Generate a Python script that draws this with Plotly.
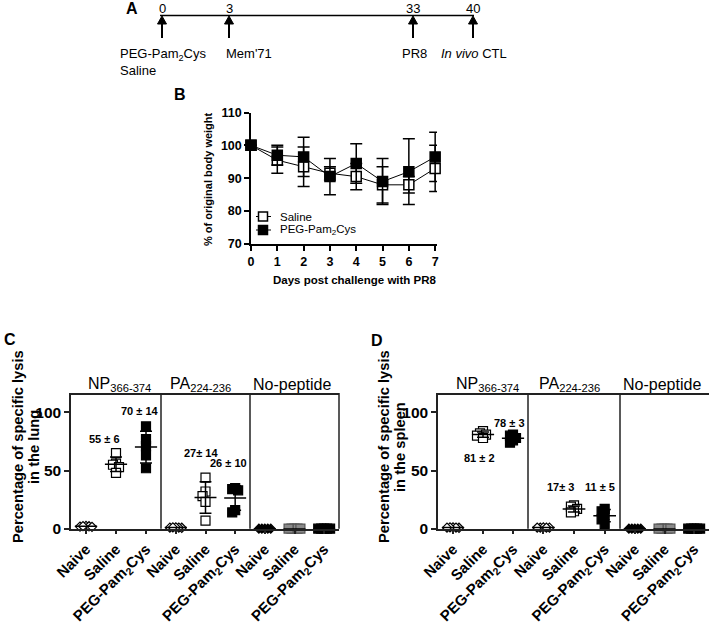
import numpy as np
import plotly.graph_objects as go

W, H = 709, 629
FONT = "Liberation Sans, Arial, Helvetica, sans-serif"

# ---------------- data ----------------
# Panel A: schedule (days) and events
timeline_days = [0, 3, 33, 40]
timeline_events = ["PEG-Pam<sub>2</sub>Cys<br>Saline", "Mem'71", "PR8", "<i>In vivo</i> CTL"]

# Panel B: body weight after PR8 challenge
days = [0, 1, 2, 3, 4, 5, 6, 7]
saline_weight = [100, 95.5, 93.5, 91.5, 90.5, 88, 88, 93]
saline_weight_sd = [0, 4, 6, 2, 4, 5.5, 2.5, 7]
peg_weight = [100, 97, 96.5, 90.5, 94.5, 89, 92, 96.5]
peg_weight_sd = [0, 3, 6, 5.5, 6, 7, 10, 7.5]
series_names = ["Saline", "PEG-Pam<sub>2</sub>Cys"]

# Panels C/D: groups and peptides
groups = ["Naive", "Saline", "PEG-Pam<sub>2</sub>Cys"]
peptides = ["NP<sub>366-374</sub>", "PA<sub>224-236</sub>", "No-peptide"]

lung_np_naive = [2.4, 1.8, 2.1, 1.6, 2.2]
lung_np_saline = [65, 56, 55, 53, 48]
lung_np_peg = [88, 77, 71, 63, 52]
lung_pa_naive = [0.8, 1.0, 1.2, 0.9, 1.1]
lung_pa_saline = [44, 32, 28, 23, 7]
lung_pa_peg = [35, 34, 33, 16, 14]
lung_nopep_naive = [0, 0, 0, 0, 0]
lung_nopep_saline = [0, 0, 0, 0, 0]
lung_nopep_peg = [0, 0, 0, 0, 0]
lung_labels_np = ["", "55 ± 6", "70 ± 14"]
lung_labels_pa = ["", "27± 14", "26 ± 10"]

spleen_np_naive = [1.2, 0.8, 1.0, 1.1, 0.9]
spleen_np_saline = [84, 82, 81, 80, 78]
spleen_np_peg = [81, 80, 78, 76, 74]
spleen_pa_naive = [1.0, 0.9, 1.1, 1.0, 1.0]
spleen_pa_saline = [20, 19, 17, 15, 14]
spleen_pa_peg = [17, 15, 12, 8, 4]
spleen_nopep_naive = [0, 0, 0, 0, 0]
spleen_nopep_saline = [0, 0, 0, 0, 0]
spleen_nopep_peg = [0, 0, 0, 0, 0]
spleen_labels_np = ["", "81 ± 2", "78 ± 3"]
spleen_labels_pa = ["", "17± 3", "11 ± 5"]


# ---------------- helpers ----------------
def X(px):
    return px / W


def Y(py):
    return 1 - py / H


def swarm(vals, step=0.1, thr=4.5):
    vals = list(vals)
    order = sorted(range(len(vals)), key=lambda i: -vals[i])
    offs = [0.0] * len(vals)
    placed = []
    cands = [0.0]
    for k in range(1, 12):
        cands += [-k * step, k * step]
    for i in order:
        near = [offs[j] for j in placed if abs(vals[j] - vals[i]) < thr]
        for c in cands:
            if all(abs(c - o) >= step * 0.99 for o in near):
                offs[i] = c
                break
        placed.append(i)
    return offs


fig = go.Figure()
ann = []
shapes = []
layout_axes = {}

# ---------------- Panel A ----------------
tl_slots = [162, 229, 413, 473]  # schematic (non-proportional) layout positions
shapes.append(dict(type="line", xref="paper", yref="paper", x0=X(160), x1=X(474),
                   y0=Y(15.5), y1=Y(15.5), line=dict(color="black", width=1.5)))
ann.append(dict(text="<b>A</b>", x=X(132), y=Y(8), xref="paper", yref="paper",
                showarrow=False, font=dict(size=16), xanchor="center", yanchor="middle"))
for k, (d, xp, ev) in enumerate(zip(timeline_days, tl_slots, timeline_events)):
    ann.append(dict(text=str(d), x=X(xp), y=Y(8), xref="paper", yref="paper",
                    showarrow=False, font=dict(size=13), xanchor="center", yanchor="middle"))
    # arrow: shaft + filled head
    shapes.append(dict(type="line", xref="paper", yref="paper", x0=X(xp), x1=X(xp),
                       y0=Y(38), y1=Y(22), line=dict(color="black", width=2)))
    shapes.append(dict(type="path", xref="paper", yref="paper",
                       path=f"M {X(xp - 4.5)} {Y(24)} L {X(xp + 4.5)} {Y(24)} L {X(xp)} {Y(16)} Z",
                       fillcolor="black", line=dict(color="black", width=1)))
    if k == 1:
        ann.append(dict(text=ev, x=X(xp - 5), y=Y(44), xref="paper", yref="paper",
                        showarrow=False, font=dict(size=13), xanchor="left", yanchor="top",
                        align="left"))
    else:
        ann.append(dict(text=ev, x=X(xp + 1), y=Y(44), xref="paper", yref="paper",
                        showarrow=False, font=dict(size=13), xanchor="center", yanchor="top",
                        align="left"))

# ---------------- Panel B ----------------
for name, w, sd, fill in [(series_names[0], saline_weight, saline_weight_sd, "white"),
                          (series_names[1], peg_weight, peg_weight_sd, "black")]:
    fig.add_trace(go.Scatter(
        x=days, y=w, name=name, mode="lines+markers", xaxis="x", yaxis="y",
        line=dict(color="black", width=1),
        marker=dict(symbol="square", size=10, color=fill, line=dict(color="black", width=1.5)),
        error_y=dict(type="data", array=sd, visible=True, color="black", thickness=1.5, width=6),
        cliponaxis=False, showlegend=False))

axis_common = dict(showgrid=False, zeroline=False, showline=True, linecolor="black",
                   linewidth=1.5, ticks="outside", ticklen=5, tickwidth=1.5,
                   tickcolor="black", automargin=False)
layout_axes["xaxis"] = dict(axis_common, domain=[X(251), X(437)], range=[0, 7.07],
                            anchor="y", tickvals=days,
                            tickfont=dict(size=12.5, weight="bold", color="black"))
layout_axes["yaxis"] = dict(axis_common, domain=[Y(244), Y(112.5)], range=[70, 110],
                            anchor="x", tickvals=[70, 80, 90, 100, 110],
                            tickfont=dict(size=12.5, weight="bold", color="black"))
ann.append(dict(text="<b>B</b>", x=X(180), y=Y(95), xref="paper", yref="paper",
                showarrow=False, font=dict(size=16), xanchor="center", yanchor="middle"))
ann.append(dict(text="<b>% of original body weight</b>", x=X(208), y=Y(179), xref="paper",
                yref="paper", showarrow=False, textangle=-90, font=dict(size=11),
                xanchor="center", yanchor="middle"))
ann.append(dict(text="<b>Days post challenge with PR8</b>", x=X(355), y=Y(280), xref="paper",
                yref="paper", showarrow=False, font=dict(size=11.5),
                xanchor="center", yanchor="middle"))
# legend (drawn)
for name, fill, ly in [(series_names[0], "white", 216.5), (series_names[1], "black", 230)]:
    shapes.append(dict(type="line", xref="paper", yref="paper", x0=X(256), x1=X(271),
                       y0=Y(ly), y1=Y(ly), line=dict(color="black", width=1)))
    shapes.append(dict(type="rect", xref="paper", yref="paper", x0=X(258.5), x1=X(267.5),
                       y0=Y(ly + 4.5), y1=Y(ly - 4.5), fillcolor=fill,
                       line=dict(color="black", width=1.5)))
    ann.append(dict(text=name, x=X(278), y=Y(ly), xref="paper", yref="paper",
                    showarrow=False, font=dict(size=11.5), xanchor="left", yanchor="middle"))


# ---------------- Panels C & D ----------------
def lysis_panel(letter, letter_xy, ytitle_lines, ytitle_x, edges, ax0, datasets, labels,
                label_offsets, right_border):
    top_px, bot_px = 395, 528.7
    ydom = [Y(bot_px), Y(top_px)]
    title_dx = [4, -5, -3]
    for p in range(3):
        n = ax0 + p
        xa, ya = f"x{n}", f"y{n}"
        for g in range(3):
            vals = datasets[p][g]
            offs = swarm(vals)
            xs = [g + o for o in offs]
            if p == 2:
                if g == 0:
                    sym, fill, lc = "diamond", "black", "black"
                elif g == 1:
                    sym, fill, lc = "square", "#8a8a8a", "#555555"
                else:
                    sym, fill, lc = "square", "black", "black"
            else:
                if g == 0:
                    sym, fill, lc = "diamond", "white", "black"
                elif g == 1:
                    sym, fill, lc = "square", "white", "black"
                else:
                    sym, fill, lc = "square", "black", "black"
            size = 7 if sym == "diamond" else 9
            fig.add_trace(go.Scatter(
                x=xs, y=vals, mode="markers", xaxis=xa, yaxis=ya, cliponaxis=False,
                marker=dict(symbol=sym, size=size, color=fill, line=dict(color=lc, width=1.2)),
                showlegend=False))
            m = float(np.mean(vals))
            s = float(np.std(vals, ddof=1))
            ex, ey = [], []
            ex += [g - 0.37, g + 0.37, None]
            ey += [m, m, None]
            if s > 0.5:
                ex += [g, g, None, g - 0.2, g + 0.2, None, g - 0.2, g + 0.2, None]
                ey += [m - s, m + s, None, m + s, m + s, None, m - s, m - s, None]
            fig.add_trace(go.Scatter(x=ex, y=ey, mode="lines", xaxis=xa, yaxis=ya,
                                     cliponaxis=False, line=dict(color="black", width=1.5),
                                     showlegend=False))
            if p < 2 and labels[p][g]:
                dx, yv = label_offsets[p][g]
                ann.append(dict(text=f"<b>{labels[p][g]}</b>", x=g + dx, y=yv, xref=xa,
                                yref=ya, showarrow=False, font=dict(size=11),
                                xanchor="center", yanchor="middle"))
        layout_axes[f"xaxis{n}"] = dict(
            domain=[X(edges[p]), X(edges[p + 1])], range=[-0.5, 2.5], anchor=ya,
            showgrid=False, zeroline=False, showline=True, mirror=True, linecolor="#222",
            linewidth=1.5, ticks="outside", ticklen=4, tickwidth=1.5, tickcolor="#222",
            tickvals=[0, 1, 2], ticktext=groups, tickangle=-45, automargin=False,
            tickfont=dict(size=15, weight="bold", color="black"))
        ycfg = dict(domain=ydom, range=[0, 115], anchor=xa, showgrid=False, zeroline=False,
                    automargin=False)
        if p == 0:
            ycfg.update(showline=True, linecolor="#222", linewidth=1.5, ticks="outside",
                        ticklen=5, tickwidth=1.5, tickcolor="#222", tickvals=[0, 50, 100],
                        tickfont=dict(size=15.5, weight="bold", color="black"))
        else:
            ycfg.update(visible=False)
        layout_axes[f"yaxis{n}"] = ycfg
        cx = (edges[p] + edges[p + 1]) / 2 + title_dx[p]
        ann.append(dict(text=peptides[p], x=X(cx), y=Y(384), xref="paper", yref="paper",
                        showarrow=False, font=dict(size=16), xanchor="center",
                        yanchor="middle"))
    div_edges = edges[1:4] if right_border else edges[1:3]
    for e in div_edges:
        shapes.append(dict(type="line", xref="paper", yref="paper", x0=X(e), x1=X(e),
                           y0=Y(bot_px), y1=Y(top_px - 2), line=dict(color="#222", width=1.5)))
    ann.append(dict(text=f"<b>{letter}</b>", x=X(letter_xy[0]), y=Y(letter_xy[1]),
                    xref="paper", yref="paper", showarrow=False, font=dict(size=16),
                    xanchor="center", yanchor="middle"))
    for li, line_text in enumerate(ytitle_lines):
        ann.append(dict(text=f"<b>{line_text}</b>", x=X(ytitle_x + 16 * li),
                        y=Y(447), xref="paper", yref="paper", showarrow=False, textangle=-90,
                        font=dict(size=14.7), xanchor="center", yanchor="middle"))


lung_data = [[lung_np_naive, lung_np_saline, lung_np_peg],
             [lung_pa_naive, lung_pa_saline, lung_pa_peg],
             [lung_nopep_naive, lung_nopep_saline, lung_nopep_peg]]
spleen_data = [[spleen_np_naive, spleen_np_saline, spleen_np_peg],
               [spleen_pa_naive, spleen_pa_saline, spleen_pa_peg],
               [spleen_nopep_naive, spleen_nopep_saline, spleen_nopep_peg]]

lysis_panel("C", (10, 339), ["Percentage of specific lysis", "in the lung"], 18,
            [71, 161, 250, 339], 2, lung_data,
            [lung_labels_np, lung_labels_pa],
            [[None, (-0.38, 77), (-0.19, 101)], [None, (-0.16, 65), (-0.21, 56.4)]], True)
lysis_panel("D", (377, 340), ["Percentage of specific lysis", "in the spleen"], 384,
            [438, 528, 620, 709], 5, spleen_data,
            [spleen_labels_np, spleen_labels_pa],
            [[None, (-0.11, 60.5), (-0.13, 91.2)], [None, (-0.44, 36), (-0.15, 36)]], False)

fig.update_layout(
    width=W, height=H, margin=dict(l=0, r=0, t=0, b=0, pad=0), autosize=False,
    paper_bgcolor="white", plot_bgcolor="rgba(0,0,0,0)",
    font=dict(family=FONT, color="black"),
    showlegend=False, annotations=ann, shapes=shapes, **layout_axes)

fig.write_html("out.html", config={"displayModeBar": False},
               post_script="document.body.style.margin='0';document.body.style.overflow='hidden';")
